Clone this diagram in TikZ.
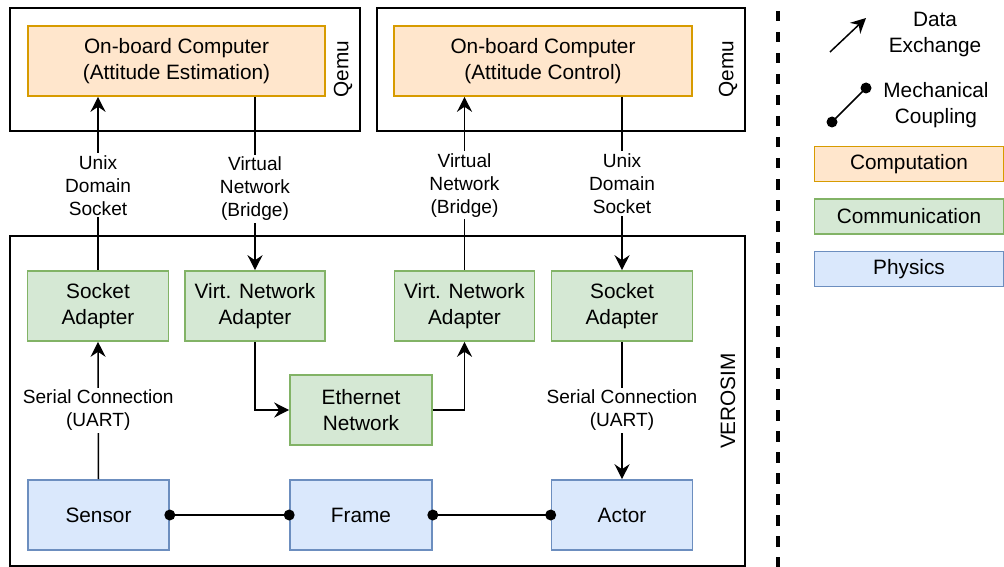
\documentclass[tikz,border=0pt]{standalone}
\usepackage{fontspec}
\setmainfont{Liberation Sans}
\usetikzlibrary{arrows.meta}
\definecolor{orfill}{HTML}{FFE6CC}\definecolor{ordraw}{HTML}{D79B00}
\definecolor{grfill}{HTML}{D5E8D4}\definecolor{grdraw}{HTML}{82B366}
\definecolor{blfill}{HTML}{DAE8FC}\definecolor{bldraw}{HTML}{6C8EBF}
\tikzset{
  base/.style={minimum height=70pt, inner sep=0pt, align=center, font=\fontsize{20.8}{26}\selectfont, line width=1.6pt},
  comp/.style={base, fill=orfill, draw=ordraw},
  comm/.style={base, fill=grfill, draw=grdraw},
  phys/.style={base, fill=blfill, draw=bldraw},
  frame/.style={draw=black, line width=1.5pt},
  side/.style={font=\fontsize{20.8}{26}\selectfont, rotate=90, inner sep=0pt},
  lbl/.style={fill=white, align=center, inner sep=2pt, font=\fontsize{19.1}{23}\selectfont},
  txt/.style={align=center, inner sep=0pt, font=\fontsize{20.8}{26}\selectfont},
  conn/.style={line width=1.5pt},
  data/.style={conn, -{Stealth[length=15pt,width=15pt,inset=5pt]}},
  dot/.style={fill=black}
}
\begin{document}
\begin{tikzpicture}[x=1pt,y=-1pt]
\useasboundingbox (0,0) rectangle (1004,567);
% containers
\draw[frame] (10,8) rectangle (360,131);
\draw[frame] (377,8) rectangle (745,131);
\draw[frame] (10,236) rectangle (745,566);
\node[side] (q1) at (343,69) {Qemu};
\node[side] (q2) at (728,69) {Qemu};
\node[side] (vs) at (728,401) {VEROSIM};
% computation
\node[comp, minimum width=297pt] (obc1) at (176.5,61) {On-board Computer\\(Attitude Estimation)};
\node[comp, minimum width=298pt] (obc2) at (543,61) {On-board Computer\\(Attitude Control)};
% communication
\node[comm, minimum width=141pt] (sa1) at (98,306) {Socket\\Adapter};
\node[comm, minimum width=140pt] (vna1) at (255,306) {Virt. Network\\Adapter};
\node[comm, minimum width=140pt] (vna2) at (464.5,306) {Virt. Network\\Adapter};
\node[comm, minimum width=141pt] (sa2) at (622,306) {Socket\\Adapter};
\node[comm, minimum width=142pt] (eth) at (361,410) {Ethernet\\Network};
% physics
\node[phys, minimum width=141pt] (sensor) at (98.5,515) {Sensor};
\node[phys, minimum width=142pt] (frm) at (361,515) {Frame};
\node[phys, minimum width=141pt] (actor) at (622,515) {Actor};
% data connectors
\draw[data] (sa1.north) -- node[lbl, pos=0.49] {Unix\\Domain\\Socket} (sa1.north |- obc1.south);
\draw[data] (vna1.north |- obc1.south) -- node[lbl, pos=0.53] {Virtual\\Network\\(Bridge)} (vna1.north);
\draw[data] (vna2.north) -- node[lbl, pos=0.49] {Virtual\\Network\\(Bridge)} (vna2.north |- obc2.south);
\draw[data] (sa2.north |- obc2.south) -- node[lbl, pos=0.5] {Unix\\Domain\\Socket} (sa2.north);
\draw[data] (vna1.south) |- (eth.west);
\draw[data] (eth.east) -| (vna2.south);
\draw[data] (sensor.north) -- node[lbl] {Serial Connection\\(UART)} (sa1.south);
\draw[data] (sa2.south) -- node[lbl] {Serial Connection\\(UART)} (actor.north);
% mechanical coupling
\draw[conn] (sensor.east) -- (frm.west);
\draw[conn] (frm.east) -- (actor.west);
\fill[dot] (sensor.east) circle (5.5);
\fill[dot] (frm.west) circle (5.5);
\fill[dot] (frm.east) circle (5.5);
\fill[dot] (actor.west) circle (5.5);
% legend
\draw[line width=3.3pt, dash pattern=on 10.5pt off 10.5pt] (778,11) -- (778,567);
\coordinate (la1) at (830,52);
\coordinate (la2) at (866,18);
\draw[data] (la1) -- (la2);
\node[txt] (ldata) at (935,35) {Data\\Exchange};
\coordinate (lm1) at (832,122);
\coordinate (lm2) at (866,88);
\draw[conn] (lm1) -- (lm2);
\fill[dot] (lm1) circle (5.5);
\fill[dot] (lm2) circle (5.5);
\node[txt] (lmech) at (936,105) {Mechanical\\Coupling};
\node[comp, minimum width=189pt, minimum height=35pt] (lcomp) at (909,164) {Computation};
\node[comm, minimum width=189pt, minimum height=35pt] (lcomm) at (909,216.5) {Communication};
\node[phys, minimum width=189pt, minimum height=35pt] (lphys) at (909,269) {Physics};
\end{tikzpicture}
\end{document}
